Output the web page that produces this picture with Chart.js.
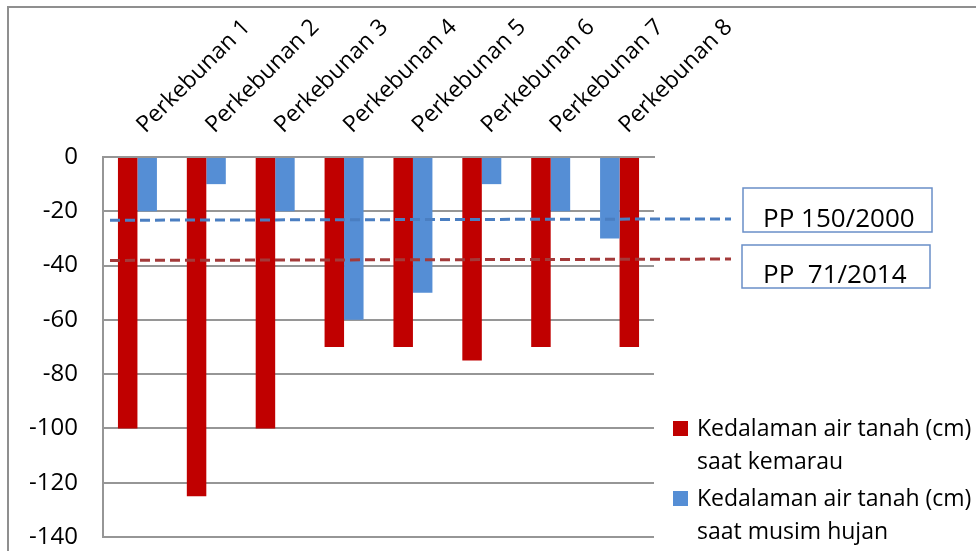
<!DOCTYPE html>
<html>
<head>
<meta charset="utf-8">
<script src="https://cdn.jsdelivr.net/npm/chart.js@4.4.0/dist/chart.umd.min.js"></script>
<style>
  html, body { margin: 0; padding: 0; background: #ffffff; }
  #wrap { width: 976px; height: 551px; position: relative; }
</style>
</head>
<body>
<div id="wrap"><canvas id="chart" width="976" height="551"></canvas></div>
<script>
// Groundwater depth per plantation (cm), dry season vs. rainy season
const categories = ['Perkebunan 1', 'Perkebunan 2', 'Perkebunan 3', 'Perkebunan 4',
                    'Perkebunan 5', 'Perkebunan 6', 'Perkebunan 7', 'Perkebunan 8'];
const kemarau    = [-100, -125, -100, -70, -70, -75, -70, -70];
const musimHujan = [-20, -10, -20, -60, -50, -10, -20, -30];
// plantations where the dry-season bar sits to the right of the rainy-season bar
const kemarauDiKanan = [false, false, false, false, false, false, false, true];

const seriesNames = [
  ['Kedalaman air tanah (cm)', 'saat kemarau'],
  ['Kedalaman air tanah (cm)', 'saat musim hujan']
];
const yTicks = [0, -20, -40, -60, -80, -100, -120, -140];

// regulation thresholds (start / end value of each dashed reference line)
const pp150 = [-23.3, -22.8];
const pp71  = [-38.1, -37.6];
const refLabels = ['PP 150/2000', 'PP  71/2014'];

const RED = '#C00000';
const BLUE = '#558ED5';
const GRID = '#969696';
const FONT = "'Open Sans', 'DejaVu Sans', sans-serif";

const kemarauKiri  = kemarau.map((v, i) => kemarauDiKanan[i] ? null : v);
const kemarauKanan = kemarau.map((v, i) => kemarauDiKanan[i] ? v : null);

const overlay = {
  id: 'overlay',
  beforeDraw(chart) {
    const ctx = chart.ctx;
    ctx.save();
    ctx.fillStyle = '#ffffff';
    ctx.fillRect(0, 0, chart.width, chart.height);
    // outer frame
    ctx.strokeStyle = '#8f8f8f';
    ctx.lineWidth = 2;
    ctx.beginPath();
    ctx.moveTo(8, chart.height + 2);
    ctx.lineTo(8, 7);
    ctx.lineTo(chart.width + 2, 7);
    ctx.stroke();
    ctx.restore();
  },
  afterDatasetsDraw(chart) {
    const ctx = chart.ctx;
    const y = chart.scales.y;
    const area = chart.chartArea;
    const x0 = area.left + 7;
    const x1 = area.right + 77;
    const lines = [[pp150, '#4A7EC1'], [pp71, '#A33A3A']];
    ctx.save();
    ctx.lineWidth = 3;
    ctx.setLineDash([10, 5]);
    lines.forEach(([vals, color]) => {
      ctx.strokeStyle = color;
      ctx.beginPath();
      ctx.moveTo(x0, y.getPixelForValue(vals[0]));
      ctx.lineTo(x1, y.getPixelForValue(vals[1]));
      ctx.stroke();
    });
    ctx.restore();
  },
  afterDraw(chart) {
    const ctx = chart.ctx;
    ctx.save();
    // threshold captions
    const boxes = [
      { x: 743, y: 188, w: 189, h: 44, tx: 763, ty: 227 },
      { x: 742, y: 245, w: 188, h: 43, tx: 763, ty: 283 }
    ];
    ctx.font = `26px ${FONT}`;
    ctx.textBaseline = 'alphabetic';
    ctx.textAlign = 'left';
    boxes.forEach((b, i) => {
      ctx.fillStyle = '#ffffff';
      ctx.fillRect(b.x, b.y, b.w, b.h);
      ctx.strokeStyle = '#6A8FC8';
      ctx.lineWidth = 1.5;
      ctx.strokeRect(b.x, b.y, b.w, b.h);
      ctx.fillStyle = '#000000';
      ctx.fillText(refLabels[i], b.tx, b.ty);
    });
    // legend
    const colors = [RED, BLUE];
    const entryTop = [436, 506];
    ctx.font = `23px ${FONT}`;
    seriesNames.forEach((lines, i) => {
      ctx.fillStyle = colors[i];
      ctx.fillRect(673, entryTop[i] - 15, 15, 15);
      ctx.fillStyle = '#000000';
      lines.forEach((t, k) => ctx.fillText(t, 697, entryTop[i] + k * 33));
    });
    ctx.restore();
  }
};

new Chart(document.getElementById('chart'), {
  type: 'bar',
  data: {
    labels: categories,
    datasets: [
      { label: seriesNames[0].join(' '), data: kemarauKiri, backgroundColor: RED },
      { label: seriesNames[1].join(' '), data: musimHujan, backgroundColor: BLUE },
      { label: seriesNames[0].join(' '), data: kemarauKanan, backgroundColor: RED }
    ]
  },
  options: {
    responsive: false,
    animation: false,
    devicePixelRatio: 1,
    skipNull: true,
    datasets: { bar: { barPercentage: 1, categoryPercentage: 0.566, borderWidth: 0, skipNull: true } },
    layout: { padding: { left: 0, top: 0, right: 322, bottom: 14 } },
    plugins: { legend: { display: false }, tooltip: { enabled: false } },
    scales: {
      x: {
        position: 'top',
        afterFit(scale) {
          scale.height = 157;
          scale.paddingLeft = 0; scale.paddingRight = 0;
          scale.paddingTop = 0; scale.paddingBottom = 0;
        },
        grid: { display: false, drawTicks: false },
        border: { display: true, color: GRID, width: 2 },
        ticks: {
          autoSkip: false, minRotation: 45, maxRotation: 45, padding: 18, labelOffset: 23,
          color: '#000000', font: { family: FONT, size: 23 }
        }
      },
      y: {
        min: -140, max: 0,
        afterFit(scale) {
          scale.width = 103;
          scale.paddingLeft = 0; scale.paddingRight = 0;
          scale.paddingTop = 0; scale.paddingBottom = 0;
        },
        afterBuildTicks(scale) { scale.ticks = yTicks.map(v => ({ value: v })); },
        grid: { color: GRID, lineWidth: 2, drawTicks: false },
        border: { display: true, color: GRID, width: 2 },
        ticks: {
          padding: 25, color: '#000000', font: { family: FONT, size: 24 },
          callback: v => String(v)
        }
      }
    }
  },
  plugins: [overlay]
});
</script>
</body>
</html>
